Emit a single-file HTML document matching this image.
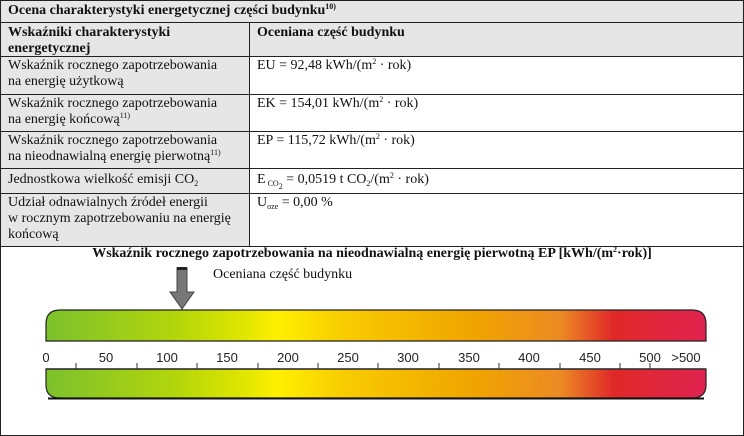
<!DOCTYPE html>
<html><head><meta charset="utf-8"><style>
*{margin:0;padding:0;box-sizing:border-box}
body{width:744px;height:429px;background:#fff;position:relative;overflow:hidden;font-family:"Liberation Serif",serif;font-size:14px;color:#111}
.c{position:absolute;border:1px solid #222;line-height:16px;padding:1px 7px}
.g{background:#e6e6e6}
sup{font-size:8px;vertical-align:5px;line-height:0}
sub{font-size:8px;vertical-align:-3px;line-height:0}
.lab{position:absolute;top:350px;font-family:"Liberation Sans",sans-serif;font-size:13px;transform:translateX(-50%);color:#222}
</style></head><body>
<div class="c g" style="left:0;top:0;width:744px;height:23px;font-weight:bold;padding-top:2px">Ocena charakterystyki energetycznej części budynku<sup>10)</sup></div>
<div class="c g" style="left:0;top:22px;width:250px;height:35px;font-weight:bold;padding-top:2px">Wskaźniki charakterystyki<br>energetycznej</div>
<div class="c g" style="left:249px;top:22px;width:495px;height:35px;font-weight:bold;padding-top:2px">Oceniana część budynku</div>
<div class="c g" style="left:0;top:56px;width:250px;height:39px">Wskaźnik rocznego zapotrzebowania<br>na energię użytkową</div>
<div class="c" style="left:249px;top:56px;width:495px;height:39px">EU = 92,48 kWh/(m<sup>2</sup> · rok)</div>
<div class="c g" style="left:0;top:94px;width:250px;height:38px">Wskaźnik rocznego zapotrzebowania<br>na energię końcową<sup>11)</sup></div>
<div class="c" style="left:249px;top:94px;width:495px;height:38px">EK = 154,01 kWh/(m<sup>2</sup> · rok)</div>
<div class="c g" style="left:0;top:131px;width:250px;height:38px">Wskaźnik rocznego zapotrzebowania<br>na nieodnawialną energię pierwotną<sup>11)</sup></div>
<div class="c" style="left:249px;top:131px;width:495px;height:38px">EP = 115,72 kWh/(m<sup>2</sup> · rok)</div>
<div class="c g" style="left:0;top:168px;width:250px;height:26px;padding-top:3px">Jednostkowa wielkość emisji CO<sub>2</sub></div>
<div class="c" style="left:249px;top:168px;width:495px;height:26px;padding-top:3px">E<sub> CO<sub>2</sub></sub> = 0,0519 t CO<sub>2</sub>/(m<sup>2</sup> · rok)</div>
<div class="c g" style="left:0;top:193px;width:250px;height:54px">Udział odnawialnych źródeł energii<br>w rocznym zapotrzebowaniu na energię<br>końcową</div>
<div class="c" style="left:249px;top:193px;width:495px;height:54px">U<sub>oze</sub> = 0,00 %</div>
<div style="position:absolute;left:0;top:246px;width:744px;height:190px;border:1px solid #222;border-top:none"></div>
<div style="position:absolute;left:0;top:246px;width:744px;text-align:center;font-weight:bold;font-size:14px">Wskaźnik rocznego zapotrzebowania na nieodnawialną energię pierwotną EP [kWh/(m<sup>2</sup>·rok)]</div>
<div style="position:absolute;left:213px;top:267px;font-size:14px">Oceniana część budynku</div>
<svg style="position:absolute;left:0;top:0" width="744" height="429">
<defs><linearGradient id="gr" x1="46" x2="706" gradientUnits="userSpaceOnUse">
<stop offset="0" stop-color="#7cc12c"/><stop offset="0.2" stop-color="#b4d60a"/><stop offset="0.3" stop-color="#e0e600"/><stop offset="0.35" stop-color="#fff000"/><stop offset="0.45" stop-color="#f8cc00"/><stop offset="0.65" stop-color="#f0a400"/><stop offset="0.78" stop-color="#ec8a24"/><stop offset="0.86" stop-color="#e02828"/><stop offset="1" stop-color="#e02450"/></linearGradient></defs>
<path d="M46,341 V324 Q46,310 60,310 H692 Q706,310 706,324 V341 Z" fill="url(#gr)" stroke="#222" stroke-width="1.2"/>
<path d="M46,369 V385 Q46,398 60,398 H692 Q706,398 706,385 V369 Z" fill="url(#gr)" stroke="#222" stroke-width="1.2"/>
<path d="M48,398.5 H704" stroke="#111" stroke-width="2"/>
<line x1="46" y1="369" x2="706" y2="369" stroke="#333" stroke-width="1.5"/>
<g stroke="#333" stroke-width="1">
<line x1="76" y1="363" x2="76" y2="369"/><line x1="137" y1="363" x2="137" y2="369"/><line x1="197" y1="363" x2="197" y2="369"/><line x1="258" y1="363" x2="258" y2="369"/><line x1="318" y1="363" x2="318" y2="369"/><line x1="378" y1="363" x2="378" y2="369"/><line x1="439" y1="363" x2="439" y2="369"/><line x1="499" y1="363" x2="499" y2="369"/><line x1="560" y1="363" x2="560" y2="369"/><line x1="620" y1="363" x2="620" y2="369"/><line x1="650" y1="363" x2="650" y2="369"/>
</g>
<path d="M177,268 H187 V292 H194 L182,309 L170,292 H177 Z" fill="#777" stroke="#444" stroke-width="1"/>
<rect x="177" y="267" width="10" height="3" fill="#222"/>
</svg>
<div class="lab" style="left:46px">0</div><div class="lab" style="left:106px">50</div><div class="lab" style="left:167px">100</div><div class="lab" style="left:227px">150</div><div class="lab" style="left:288px">200</div><div class="lab" style="left:348px">250</div><div class="lab" style="left:408px">300</div><div class="lab" style="left:469px">350</div><div class="lab" style="left:529px">400</div><div class="lab" style="left:590px">450</div><div class="lab" style="left:650px">500</div><div class="lab" style="left:686px">&gt;500</div>
</body></html>
